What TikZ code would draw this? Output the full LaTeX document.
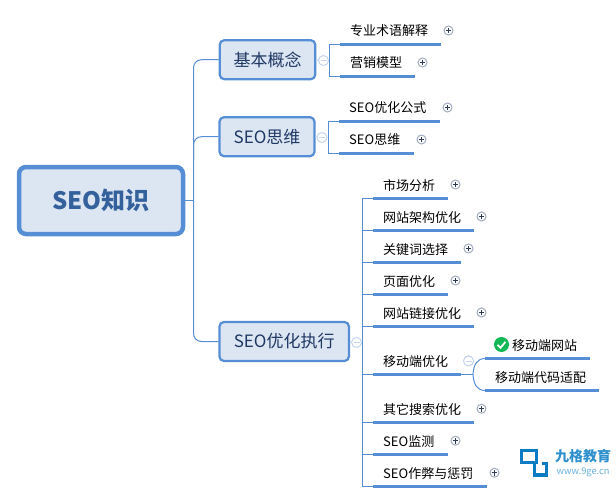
\documentclass[tikz,border=0pt]{standalone}
\usepackage{fontspec}
\setmainfont{Noto Sans CJK SC}
\begin{document}
\begin{tikzpicture}[x=1pt,y=-1pt,
  linecol/.style={draw=blueA,line width=1pt},
  rootbox/.style={draw=blueA,fill=boxfill,line width=4.5pt,rounded corners=7pt,minimum width=164pt,minimum height=67pt,text=rootText,font=\fontsize{24}{26}\selectfont\bfseries,inner sep=0pt},
  mainbox/.style={draw=blueA,fill=boxfill,line width=2.2pt,rounded corners=4.5pt,minimum height=39pt,text=mainText,font=\fontsize{17}{20}\selectfont,inner sep=0pt},
  leaf/.style={anchor=west,font=\fontsize{13}{15}\selectfont,text=black,inner sep=0pt},
  underl/.style={draw=blueA,line width=3pt},
  plusbtn/.style={circle,draw=plusEdge,fill=white,line width=1pt,minimum size=9pt,inner sep=0pt,
    path picture={\draw[plusMark,line width=.8pt] (path picture bounding box.center) ++(-2.8pt,0) -- ++(5.6pt,0);
                  \draw[plusMark,line width=.8pt] (path picture bounding box.center) ++(0,-2.8pt) -- ++(0,5.6pt);}},
  minusbtn/.style={circle,draw=minusEdge,fill=white,line width=1pt,minimum size=10pt,inner sep=0pt,
    path picture={\draw[minusEdge,line width=.8pt] (path picture bounding box.center) ++(-3pt,0) -- ++(6pt,0);}},
]
\definecolor{blueA}{HTML}{558ED5}
\definecolor{boxfill}{HTML}{DCE6F2}
\definecolor{rootText}{HTML}{34609C}
\definecolor{mainText}{HTML}{1F3864}
\definecolor{plusEdge}{HTML}{A0AAC0}
\definecolor{plusMark}{HTML}{2F3B55}
\definecolor{minusEdge}{HTML}{C5D5EE}
\definecolor{logoBlue}{HTML}{0A7CC4}
\definecolor{okGreen}{HTML}{12B856}
\useasboundingbox (0,0) rectangle (616,503);
% main nodes
\node[rootbox] (root) at (101,200.5) {SEO知识};
\node[mainbox,minimum width=95.5pt] (m1) at (267.5,59.7) {基本概念};
\node[mainbox,minimum width=95pt] (m2) at (267,136.7) {SEO思维};
\node[mainbox,minimum width=129.5pt] (m3) at (284.2,341.5) {SEO优化执行};
% spine
\coordinate (sp0) at (193.5,200.5);
\draw[linecol] (root.east) -- (sp0);
\draw[linecol,rounded corners=8pt] (m1.west) -- (193.5,59.7) -- (193.5,341.5) -- (m3.west);
\draw[linecol,rounded corners=8pt] (m2.west) -- (193.5,136.7) -- (193.5,160);
% group 1
\node[minusbtn] (c1) at (323.5,60.5) {};
\draw[linecol,draw=minusEdge] (m1.east) -- (c1);
\coordinate (g1a) at (340,44.3); \coordinate (g1ae) at (440.5,44.3);
\coordinate (g1b) at (340,76.5); \coordinate (g1be) at (414.5,76.5);
\draw[linecol] (c1) -- (329.3,60.5);
\draw[linecol] (g1a) -- (329.3,44.3) -- (329.3,76.5) -- (g1b);
\draw[underl] (g1a) -- (g1ae); \draw[underl] (g1b) -- (g1be);
\node[leaf] (t11) at (350,30.5) {专业术语解释};
\node[leaf] (t12) at (350,62.5) {营销模型};
\node[plusbtn] (p11) at (448.5,30.5) {};
\node[plusbtn] (p12) at (422.5,62.5) {};
% group 2
\node[minusbtn] (c2) at (322,137.5) {};
\draw[linecol,draw=minusEdge] (m2.east) -- (c2);
\coordinate (g2a) at (339,121.5); \coordinate (g2ae) at (439.5,121.5);
\coordinate (g2b) at (339,153.5); \coordinate (g2be) at (413.5,153.5);
\draw[linecol] (c2) -- (328.5,137.5);
\draw[linecol] (g2a) -- (328.5,121.5) -- (328.5,153.5) -- (g2b);
\draw[underl] (g2a) -- (g2ae); \draw[underl] (g2b) -- (g2be);
\node[leaf] (t21) at (349,108) {SEO优化公式};
\node[leaf] (t22) at (349,140) {SEO思维};
\node[plusbtn] (p21) at (447.5,107.5) {};
\node[plusbtn] (p22) at (421.5,139.5) {};
% group 3
\node[minusbtn] (c3) at (356.5,342.5) {};
\draw[linecol,draw=minusEdge] (m3.east) -- (c3);
\draw[linecol] (c3) -- (362.5,342.5);
\draw[linecol] (372.5,198.3) -- (362.5,198.3) -- (362.5,486.5) -- (372.5,486.5);
\foreach \y/\xe/\name/\txt in {198.3/447.5/a/市场分析,230.3/473.5/b/网站架构优化,262.3/460.5/c/关键词选择,294.3/447.5/d/页面优化,326.3/473.5/e/网站链接优化,374.3/460.5/f/移动端优化,422.5/473.5/g/其它搜索优化,454.5/447.5/h/SEO监测,486.5/486.5/i/SEO作弊与惩罚}{
  \draw[linecol] (362.5,\y) -- (372.5,\y);
  \draw[underl] (372.5,\y) -- (\xe,\y);
  \node[leaf] (t\name) at (383,\y-12.8) {\txt};
  \ifx\name f\else
    \node[plusbtn] (p\name) at (\xe+8,\y-13.8) {};
  \fi
}
% mobile
\node[minusbtn] (c4) at (468.5,361) {};
\coordinate (mo) at (473,374.3);
\draw[linecol] (460.5,374.3) -- (mo);
\draw[linecol] (mo) .. controls (473.5,365) and (477,358.5) .. (485,358.5);
\draw[linecol] (mo) .. controls (473.5,384) and (477,390.5) .. (485,390.5);
\draw[underl] (485,358.5) -- (589.7,358.5);
\draw[underl] (485,390.5) -- (598.5,390.5);
\node[circle,fill=okGreen,minimum size=15pt,inner sep=0pt] (chk) at (501.5,344.5) {};
\draw[white,line width=1.8pt] (497.5,344.8) -- (500.5,347.8) -- (505.5,341.8);
\node[leaf] (t61) at (512,345.5) {移动端网站};
\node[leaf] (t62) at (495,377.5) {移动端代码适配};
% logo
\draw[logoBlue,line width=3.2pt] (521.3,450.7) rectangle (536.3,462.3);
\draw[logoBlue,line width=3.2pt] (534.7,462.3) -- (534.7,475) -- (546.5,475) -- (546.5,463.5) -- (541.5,463.5);
\node[anchor=west,inner sep=0pt,text=logoBlue!85!white,font=\fontsize{14}{16}\selectfont\bfseries] (l1) at (555,456) {九格教育};
\node[anchor=west,inner sep=0pt,text=logoBlue!60!white,font=\fontsize{9.3}{11}\selectfont] (l2) at (556.5,472.7) {www.9ge.cn};
\end{tikzpicture}
\end{document}
